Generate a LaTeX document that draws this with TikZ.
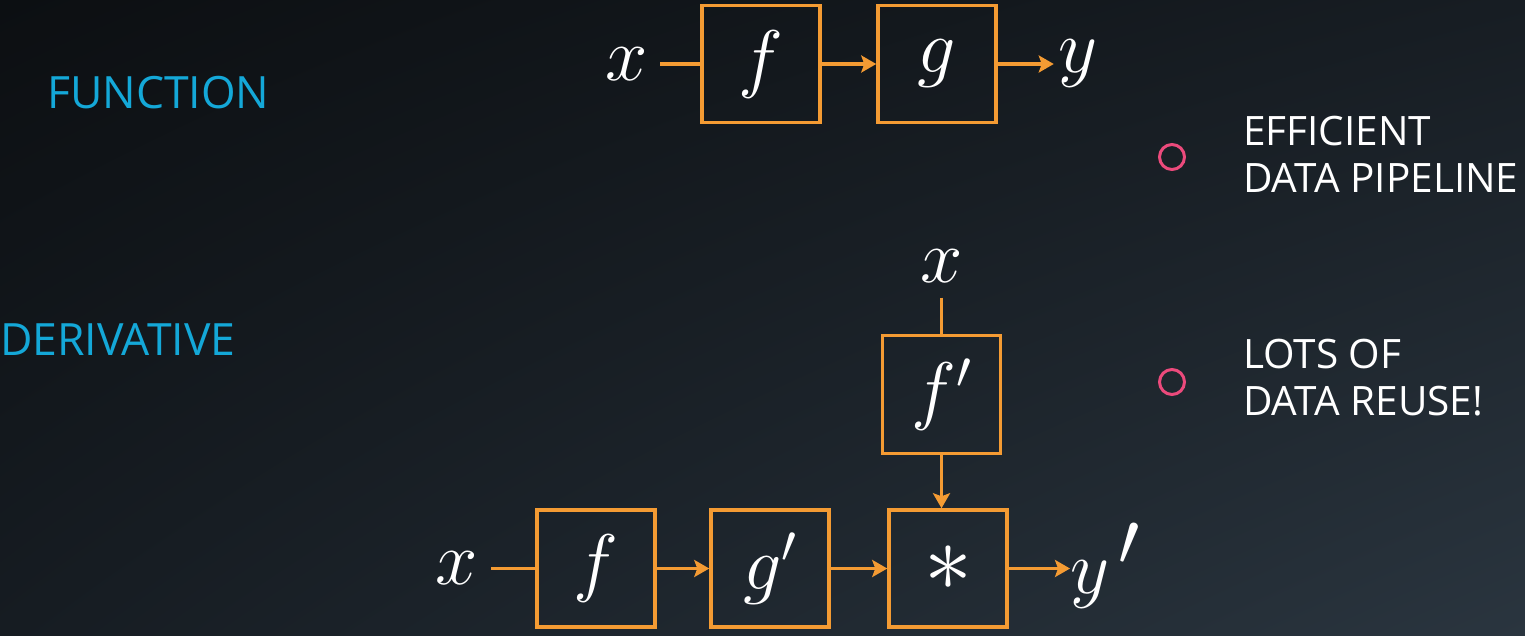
\documentclass[tikz,border=0pt]{standalone}
\usepackage{fix-cm}
\usepackage{fontspec}
\newfontfamily\osans{Open Sans}
\usetikzlibrary{arrows.meta,shadings}
\definecolor{bgA}{HTML}{0C0F12}
\definecolor{bgB}{HTML}{171D23}
\definecolor{bgC}{HTML}{161C22}
\definecolor{bgD}{HTML}{2A353F}
\definecolor{orng}{HTML}{F49B33}
\definecolor{cyanT}{HTML}{14A8D8}
\definecolor{pinkC}{HTML}{EC4A7C}
\tikzset{
  fbox/.style={draw=orng, line width=3.5pt, minimum width=118pt, minimum height=117pt, inner sep=0pt, text=white, font=\fontsize{76}{80}\selectfont},
  mlab/.style={text=white, inner sep=0pt, font=\fontsize{76}{80}\selectfont},
  conn/.style={draw=orng, line width=3.5pt},
  arr/.style={conn, -{Stealth[length=15pt,width=17pt,inset=3pt]}},
  head/.style={text=cyanT, font=\osans\fontsize{44.5}{50}\selectfont, inner sep=0pt, anchor=base west},
  bullet/.style={circle, draw=pinkC, line width=3pt, minimum size=25pt, inner sep=0pt},
  btext/.style={text=white, font=\osans\fontsize{40.5}{47}\selectfont, inner sep=0pt, anchor=base west, align=left},
}
\begin{document}
\begin{tikzpicture}[x=1pt,y=-1pt]
\shade[upper left=bgA, upper right=bgB, lower left=bgC, lower right=bgD] (0,0) rectangle (1525,635);
\useasboundingbox (0,0) rectangle (1525,635);

\node[head] (hf) at (47,108) {FUNCTION};
\node[head] (hd) at (0,355) {DERIVATIVE};

% top row
\node[mlab] (x1) at (627,64) {$x$};
\node[fbox] (f1) at (761,64) {$f$};
\node[fbox] (g1) at (937,64) {$g$};
\node[mlab] (y1) at (1078,64) {$y$};
\draw[conn] ([xshift=12pt]x1.east |- f1.west) -- (f1.west);
\draw[arr] (f1.east) -- (g1.west);
\draw[arr] (g1.east) -- ++(56,0) coordinate (y1w);

% bottom
\node[mlab] (x2) at (457,568.5) {$x$};
\node[fbox] (f2) at (596,568.5) {$f$};
\node[fbox] (g2) at (770,568.5) {$g'$};
\node[fbox, font=\fontsize{96}{100}\selectfont] (st) at (948,568.5) {$\ast$};
\node[mlab, anchor=west] (y2) at (1070,566) {$y^{\,\textstyle\prime}$};
\node[fbox, minimum height=118pt] (fp) at (941.5,394.5) {$f'$};
\node[mlab] (x3) at (941.5,266) {$x$};

\draw[conn] ([xshift=13pt]x2.east |- f2.west) -- (f2.west);
\draw[arr] (f2.east) -- (g2.west);
\draw[arr] (g2.east) -- (st.west);
\draw[arr] (st.east) -- (st.east -| y2.west);
\draw[conn] ([yshift=-15pt]fp.north |- x3.south) -- (fp.north);
\draw[arr] (fp.south) -- (fp.south |- st.north);

% bullets
\node[bullet] (b1) at (1172,157) {};
\node[btext] (t1) at (1243,192) {EFFICIENT\\DATA PIPELINE};
\node[bullet] (b2) at (1172,382) {};
\node[btext] (t2) at (1243,415) {LOTS OF\\DATA REUSE!};
\end{tikzpicture}
\end{document}
